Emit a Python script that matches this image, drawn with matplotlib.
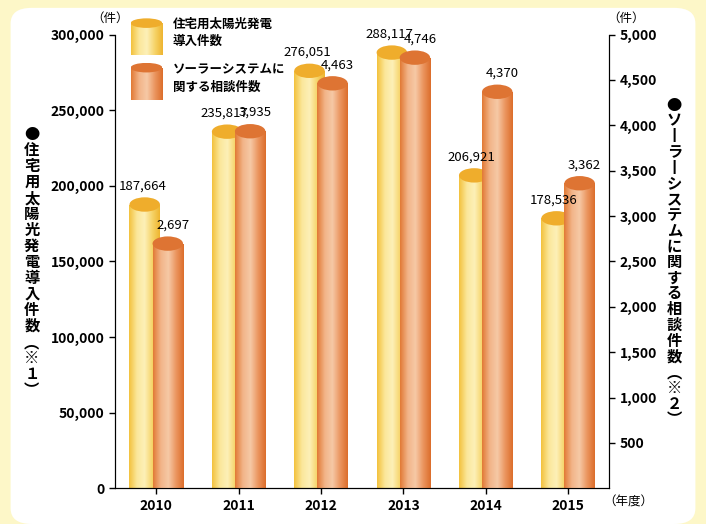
import numpy as np
import matplotlib.pyplot as plt
from matplotlib.patches import Rectangle, Ellipse, FancyBboxPatch
from matplotlib.colors import LinearSegmentedColormap

plt.rcParams['font.family'] = 'Noto Sans CJK JP'

years = ['2010', '2011', '2012', '2013', '2014', '2015']
solar = [187664, 235817, 276051, 288117, 206921, 178536]
consult = [2697, 3935, 4463, 4746, 4370, 3362]
solar_lbl = ['187,664', '235,817', '276,051', '288,117', '206,921', '178,536']
consult_lbl = ['2,697', '3,935', '4,463', '4,746', '4,370', '3,362']

fig = plt.figure(figsize=(7.06, 5.24), dpi=100)
fig.patch.set_facecolor('#fdf7c8')
bg = FancyBboxPatch((0.015, 0.0), 0.97, 0.985, boxstyle='round,pad=0,rounding_size=0.03',
                    transform=fig.transFigure, facecolor='white', edgecolor='none', zorder=-5)
fig.patches.append(bg)
ax = fig.add_axes([0.163, 0.068, 0.70, 0.866])
ax.set_facecolor('none')

ymax = 300000
scale = ymax / 5000
ax.set_xlim(-0.5, 5.5)
ax.set_ylim(0, ymax)

cm_y = LinearSegmentedColormap.from_list('y', ['#f3c23e', '#fbe79a', '#fdf0b8', '#f6d46a', '#eeb530'])
cm_o = LinearSegmentedColormap.from_list('o', ['#e27a36', '#f2b488', '#f6c9a6', '#eb9660', '#dc6e2c'])
grad = np.linspace(0, 1, 64).reshape(1, -1)
w = 0.37
eh = 9500

def cylinder(xc, h, cmap, top, z):
    x0, x1 = xc - w / 2, xc + w / 2
    im = ax.imshow(grad, cmap=cmap, extent=[x0, x1, 0, h], aspect='auto', zorder=z)
    im.set_clip_path(Rectangle((x0, 0), w, h, transform=ax.transData))
    ax.add_patch(Ellipse((xc, h), w, eh, facecolor=top, edgecolor='none', zorder=z + 0.1))

for i in range(len(years)):
    cylinder(i - 0.14, solar[i], cm_y, '#efad2c', 2)
    cylinder(i + 0.14, consult[i] * scale, cm_o, '#de7433', 3)
    ax.text(i - 0.17, solar[i] + 8000, solar_lbl[i], ha='center', va='bottom', fontsize=9.5, zorder=5)
    ax.text(i + 0.2, consult[i] * scale + 8000, consult_lbl[i], ha='center', va='bottom', fontsize=9.5, zorder=5)

ax.set_xlim(-0.5, 5.5)
ax.set_ylim(0, ymax)
ax.set_xticks(range(len(years)))
ax.set_xticklabels(years, fontsize=10, fontweight='bold')
ax.set_yticks(range(0, 300001, 50000))
ax.set_yticklabels(['0'] + [f'{v:,}' for v in range(50000, 300001, 50000)], fontsize=10, fontweight='bold')
ax.spines['top'].set_visible(False)

ax2 = ax.twinx()
ax2.set_ylim(0, 5000)
ax2.set_yticks(range(500, 5001, 500))
ax2.set_yticklabels([f'{v:,}' for v in range(500, 5001, 500)], fontsize=10, fontweight='bold')
ax2.spines['top'].set_visible(False)
for a in (ax, ax2):
    a.tick_params(length=4, width=1)

fig.text(0.183, 0.958, '（件）', ha='right', fontsize=9)
fig.text(0.86, 0.958, '（件）', ha='left', fontsize=9)
fig.text(0.89, 0.035, '（年度）', ha='center', fontsize=9)

left_lbl = '●住宅用太陽光発電導入件数︵※１︶'
right_lbl = '●ソ丨ラ丨システムに関する相談件数︵※２︶'
fig.text(0.045, 0.5, '\n'.join(left_lbl), ha='center', va='center', fontsize=11,
         fontweight='bold', linespacing=1.0)
fig.text(0.955, 0.5, '\n'.join(right_lbl), ha='center', va='center', fontsize=11,
         fontweight='bold', linespacing=0.98)

# legend
def legend_cyl(x, y, cmap, top):
    lax = fig.add_axes([x, y, 0.045, 0.07])
    lax.axis('off')
    lax.imshow(grad, cmap=cmap, extent=[0, 1, 0, 1], aspect='auto')
    lax.add_patch(Ellipse((0.5, 1.0), 1, 0.3, facecolor=top, edgecolor='none'))
    lax.set_xlim(0, 1)
    lax.set_ylim(0, 1.15)
    lax.set_zorder(10)

legend_cyl(0.185, 0.895, cm_y, '#efad2c')
legend_cyl(0.185, 0.81, cm_o, '#de7433')
fig.text(0.245, 0.937, '住宅用太陽光発電\n導入件数', fontsize=9, fontweight='bold', va='center', linespacing=1.4)
fig.text(0.245, 0.85, 'ソーラーシステムに\n関する相談件数', fontsize=9, fontweight='bold', va='center', linespacing=1.4)

fig.savefig('out.png', dpi=100, facecolor=fig.get_facecolor())
